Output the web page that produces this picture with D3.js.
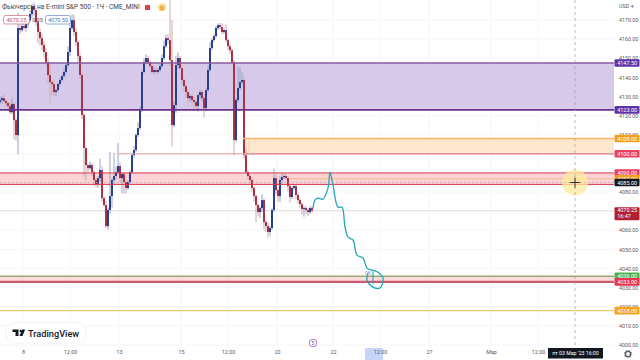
<!DOCTYPE html>
<html>
<head>
<meta charset="utf-8">
<script src="https://cdn.jsdelivr.net/npm/d3@7"></script>
<style>
html, body { margin: 0; padding: 0; background: #fff; overflow: hidden; }
text { font-family: Roboto, "Open Sans", sans-serif; }
</style>
</head>
<body>
<script>
var width = 640
var height = 360

// hourly closes, one per bar
var closes = [
  4128.1,4129.1,4127.6,4126.5,4125.0,4121.8,4126.0,4117.6,4109.8,4165.8,
  4164.7,4166.8,4165.8,4167.8,4169.9,4173.1,4177.3,4175.2,4168.9,4163.7,
  4160.5,4156.9,4153.2,4148.0,4141.2,4137.5,4136.5,4132.3,4133.3,4136.5,
  4138.6,4140.7,4142.8,4146.4,4153.2,4165.8,4169.9,4163.7,4158.4,4151.1,
  4141.2,4120.3,4103.0,4094.1,4092.5,4094.1,4090.4,4086.3,4084.2,4087.3,
  4091.5,4076.8,4073.2,4062.2,4070.6,4077.9,4086.3,4088.4,4090.4,4093.6,
  4087.3,4089.4,4085.2,4082.1,4085.2,4090.4,4099.3,4102.0,4109.8,4113.5,
  4122.9,4142.8,4148.0,4150.1,4148.0,4145.9,4142.8,4143.8,4142.8,4143.8,
  4145.9,4150.1,4156.3,4160.5,4159.5,4149.0,4115.0,4125.5,4146.4,4150.1,
  4144.8,4138.6,4135.4,4132.3,4129.1,4130.2,4128.1,4127.1,4125.0,4130.7,
  4132.3,4129.1,4123.9,4133.3,4143.8,4155.3,4159.5,4161.6,4165.8,4167.3,
  4166.3,4163.7,4164.7,4159.5,4156.3,4154.2,4148.0,4107.2,4128.1,4134.4,
  4137.5,4138.6,4099.3,4090.4,4088.4,4086.3,4082.1,4077.9,4073.2,4069.5,
  4071.6,4075.8,4064.3,4062.2,4059.1,4061.2,4070.6,4087.3,4081.0,4077.9,
  4086.3,4087.8,4088.4,4087.3,4083.1,4077.4,4082.1,4083.1,4078.4,4075.8,
  4073.7,4071.1,4071.6,4070.6,4069.5,4071.6,4070.25
]
var firstOpen = 4127

// wick length above / below the body, in points
var upperWick = [
  2,1,2,1,1,2,3,1,1,8,
  2,1,1,1,1,2,1,2,1,2,
  2,2,2,2,2,6,1,2,1,1,
  1,1,2,1,3,4,3,3,2,1,
  2,1,1,1,1,2,1,1,1,1,
  6,2,1,2,1,23,1,12,3,12,
  2,1,1,1,1,1,1,2,1,3,
  2,1,2,2,1,1,2,2,1,1,
  1,2,3,2,2,21,21,2,5,3,
  1,1,1,1,1,1,1,2,1,1,
  1,1,1,1,2,3,1,1,1,1,
  1,2,1,3,1,1,1,1,1,11,
  8,4,2,4,1,1,1,1,1,1,
  1,3,1,1,2,1,1,5,2,1,
  2,2,1,1,1,1,1,1,1,1,
  1,1,1,1,1,1,1
]
var lowerWick = [
  1,2,1,2,2,1,1,10,3,10,
  2,1,1,2,2,1,2,3,2,6,
  4,3,3,2,4,11,6,2,2,1,
  1,1,1,1,1,2,1,2,2,3,
  2,2,15,8,2,1,2,3,2,2,
  2,2,1,1,2,2,6,2,2,1,
  2,8,6,3,1,1,1,1,1,1,
  1,1,1,1,1,1,1,1,1,1,
  1,1,1,1,2,3,11,1,4,2,
  1,2,3,3,4,2,3,3,2,3,
  2,2,5,1,1,1,1,1,1,1,
  1,1,1,1,2,2,1,8,1,1,
  1,1,2,1,2,2,2,3,9,2,
  3,2,4,3,3,2,1,1,2,3,
  3,2,1,1,3,3,1,1,2,2,
  2,3,4,2,2,1,1
]

// hand drawn forecast line
var forecastBars = [156.5,157.5,159,161.5,164,165,166.5,169,171,172.5,174,176.5,178.5,181.5,183.5,186,189,191.5,190,186.5,183.5,184]
var forecastPrices = [4071.6,4075.8,4076.8,4076.3,4082.1,4090.4,4083.6,4072.1,4072.1,4061.7,4056.4,4054.9,4047.0,4045.5,4040.2,4039.2,4038.1,4035.0,4029.8,4030.3,4034.0,4037.6]

var priceTicks = [4000,4010,4020,4030,4040,4050,4060,4070,4080,4090,4100,4110,4120,4130,4140,4150,4160,4170]
var timeTickBars = [11.5,35,59.5,90.5,114,138.5,166.5,190,214.5,245.5,269]
var timeTickLabels = ['8','12:00','13','15','12:00','20','22','12:00','27','Мар','12:00']

var tagPrices = [4147.5,4123,4108,4100,4090,4087,4085,4036,4033,4018]
var tagLabels = ['4147.50','4123.00','4108.00','4100.00','4090.00','4087.00','4085.00','4036.00','4033.00','4018.00']
var tagColors = ['#5e35a8','#5e35a8','#f0a020','#e8415e','#e8415e','#f0a020','#131722','#4caf50','#e8344e','#f5a31e']

var crossBar = 287.5
var crossPrice = 4085
var lastPrice = 4070.25

var x = d3.scaleLinear().domain([0, 320]).range([0, 640])
var y = d3.scaleLinear().domain([4000, 4170]).range([345, 20])
var plotRight = 614

var svg = d3.select('body').append('svg')
  .attr('width', width)
  .attr('height', height)
  .style('display', 'block')

// grid
svg.append('g').selectAll('line').data(priceTicks).enter().append('line')
  .attr('x1', 0).attr('x2', plotRight)
  .attr('y1', d => y(d)).attr('y2', d => y(d))
  .attr('stroke', '#f6f6f8')
svg.append('g').selectAll('line').data(timeTickBars).enter().append('line')
  .attr('x1', d => x(d)).attr('x2', d => x(d))
  .attr('y1', 0).attr('y2', 347)
  .attr('stroke', '#f6f6f8')

// zones
function zone(bar0, top, bottom, fill) {
  svg.append('rect')
    .attr('x', x(bar0))
    .attr('y', y(top))
    .attr('width', plotRight - x(bar0))
    .attr('height', y(bottom) - y(top))
    .attr('fill', fill)
}
function level(bar0, price, color, w) {
  svg.append('line')
    .attr('x1', x(bar0)).attr('x2', plotRight)
    .attr('y1', y(price)).attr('y2', y(price))
    .attr('stroke', color)
    .attr('stroke-width', w)
}

zone(0, 4147.5, 4123, '#d6c9ea')
zone(121.5, 4108, 4100, '#fde7cf')
zone(0, 4090, 4084, '#fbd3d6')
zone(0, 4036, 4033, '#fbdcdc')

level(0, lastPrice, '#e2e2e4', 1)

// candles
var candles = closes.map((c, i) => {
  var o = i == 0 ? firstOpen : closes[i - 1]
  return {
    i: i,
    open: o,
    close: c,
    high: Math.max(o, c) + upperWick[i],
    low: Math.min(o, c) - lowerWick[i]
  }
})

var candleLayer = svg.append('g')
candleLayer.selectAll('line').data(candles).enter().append('line')
  .attr('x1', d => x(d.i)).attr('x2', d => x(d.i))
  .attr('y1', d => y(d.high)).attr('y2', d => y(d.low))
  .attr('stroke', d => d.close >= d.open ? '#98a4c4' : '#cfa9ae')
  .attr('stroke-width', 1)
candleLayer.selectAll('rect').data(candles).enter().append('rect')
  .attr('x', d => x(d.i) - 1)
  .attr('width', 2)
  .attr('y', d => y(Math.max(d.open, d.close)))
  .attr('height', d => Math.max(1, Math.abs(y(d.open) - y(d.close))))
  .attr('fill', d => d.close >= d.open ? '#263f8e' : '#a83348')

// level lines over the candles
level(0, 4147.5, '#8b5a9e', 1.4)
level(0, 4123, '#6f2f8c', 1.6)
level(121.5, 4108, '#f9b560', 1.5)
level(121.5, 4100, '#cf8f86', 1.5)
level(59, 4100, '#e79aa0', 1)
level(0, 4090, '#d8394c', 1)
level(145, 4087, '#f2bd8a', 1)
level(0, 4084, '#d8394c', 1)
level(0, 4036, '#9aa86e', 1.4)
level(0, 4033, '#cb5a6c', 2.2)
level(0, 4018, '#e4cd6e', 1.4)

svg.append('line')
  .attr('x1', x(124.5)).attr('x2', x(124.5))
  .attr('y1', y(4108)).attr('y2', y(4100))
  .attr('stroke', '#f8cf9a')

// forecast
var forecast = forecastBars.map((b, i) => [x(b), y(forecastPrices[i])])
svg.append('path')
  .attr('d', d3.line().curve(d3.curveCatmullRom)(forecast))
  .attr('fill', 'none')
  .attr('stroke', '#22a9b8')
  .attr('stroke-width', 1.3)
svg.append('line')
  .attr('x1', x(186.5)).attr('x2', x(186.5))
  .attr('y1', y(4038.5)).attr('y2', y(4032))
  .attr('stroke', '#22a9b8')
  .attr('stroke-width', 1.1)
svg.append('text')
  .attr('x', x(184)).attr('y', y(4036.5))
  .attr('text-anchor', 'middle')
  .attr('font-size', 5)
  .attr('fill', '#6f9fd8')
  .text('ОК')

// crosshair
svg.append('circle')
  .attr('cx', x(crossBar)).attr('cy', y(crossPrice))
  .attr('r', 13)
  .attr('fill', '#fdeb9c')
  .attr('fill-opacity', 0.75)
svg.append('line')
  .attr('x1', x(crossBar)).attr('x2', x(crossBar))
  .attr('y1', 0).attr('y2', 347)
  .attr('stroke', '#9a9ea8')
  .attr('stroke-width', 0.7)
  .attr('stroke-dasharray', '3 3')
svg.append('line')
  .attr('x1', 0).attr('x2', plotRight)
  .attr('y1', y(crossPrice)).attr('y2', y(crossPrice))
  .attr('stroke', '#b8a0a6')
  .attr('stroke-width', 0.6)
  .attr('stroke-dasharray', '2 2')
svg.append('path')
  .attr('d', `M${x(crossBar) - 5},${y(crossPrice)}h10M${x(crossBar)},${y(crossPrice) - 5}v10`)
  .attr('stroke', '#333')
  .attr('stroke-width', 1)

// axes
var yAxis = svg.append('g')
  .attr('transform', `translate(${plotRight},0)`)
  .call(d3.axisRight(y).tickValues(priceTicks).tickFormat(d3.format('.2f')).tickSize(0).tickPadding(5))
yAxis.select('.domain').remove()
yAxis.selectAll('text').attr('font-size', 5.3).attr('fill', '#555a64').style('font-family', 'Roboto, sans-serif')

svg.append('rect')
  .attr('x', x(182.5)).attr('y', 348)
  .attr('width', 18).attr('height', 12)
  .attr('fill', '#c6d5f8')

var xAxis = svg.append('g')
  .attr('transform', 'translate(0,347)')
  .call(d3.axisBottom(x).tickValues(timeTickBars).tickFormat((d, i) => timeTickLabels[i]).tickSize(0).tickPadding(3))
xAxis.select('.domain').remove()
xAxis.selectAll('text').attr('font-size', 5.4).attr('fill', '#555a64').style('font-family', 'Roboto, sans-serif')

// price tags
var tagH = 7.6
var tags = svg.append('g').selectAll('g').data(tagPrices).enter().append('g')
  .attr('transform', d => `translate(${plotRight},${y(d)})`)
tags.append('rect')
  .attr('x', 0.5).attr('y', -tagH / 2)
  .attr('width', 25).attr('height', tagH)
  .attr('rx', 1)
  .attr('fill', (d, i) => tagColors[i])
tags.append('text')
  .attr('x', 3.2).attr('y', 2)
  .attr('font-size', 5.5)
  .attr('fill', '#fff')
  .text((d, i) => tagLabels[i])

// countdown tag
svg.append('rect')
  .attr('x', plotRight + 0.5).attr('y', y(lastPrice) - 3.5)
  .attr('width', 25).attr('height', 13)
  .attr('rx', 1)
  .attr('fill', '#b02232')
svg.append('text')
  .attr('x', plotRight + 3.2).attr('y', y(lastPrice) + 1.7)
  .attr('font-size', 5.5).attr('fill', '#fff')
  .text('4070.25')
svg.append('text')
  .attr('x', plotRight + 3.2).attr('y', y(lastPrice) + 7.7)
  .attr('font-size', 5.5).attr('fill', '#fff')
  .text('16:47')

svg.append('text')
  .attr('x', 619).attr('y', 7.5)
  .attr('font-size', 5.4)
  .attr('fill', '#555a64')
  .text('USD ▾')

// crosshair date
svg.append('rect')
  .attr('x', 548).attr('y', 348)
  .attr('width', 55).attr('height', 10.5)
  .attr('fill', '#131722')
svg.append('text')
  .attr('x', 575.5).attr('y', 355.2)
  .attr('text-anchor', 'middle')
  .attr('font-size', 5.2)
  .attr('fill', '#fff')
  .text("пт 03 Мар '23  16:00")

// settings icon
svg.append('circle')
  .attr('cx', 628).attr('cy', 354)
  .attr('r', 2.6)
  .attr('fill', 'none')
  .attr('stroke', '#555a64')
  .attr('stroke-width', 1.4)
svg.append('circle')
  .attr('cx', 628).attr('cy', 354)
  .attr('r', 3.8)
  .attr('fill', 'none')
  .attr('stroke', '#555a64')
  .attr('stroke-width', 0.9)
  .attr('stroke-dasharray', '1.2 1.8')

// legend row
svg.append('text')
  .attr('x', 2).attr('y', 9)
  .attr('font-size', 6.6)
  .attr('fill', '#3d4048')
  .text('Фьючерсы на E-mini S&P 500 · 1Ч · CME_MINI')
svg.append('rect')
  .attr('x', 145).attr('y', 5)
  .attr('width', 5).attr('height', 5)
  .attr('fill', '#d8404c')
svg.append('circle')
  .attr('cx', 162).attr('cy', 7.5)
  .attr('r', 4)
  .attr('fill', '#fcd58a')
svg.append('text')
  .attr('x', 162).attr('y', 9.5)
  .attr('text-anchor', 'middle')
  .attr('font-size', 5)
  .attr('fill', '#a06a10')
  .text('D')

function priceBox(x0, w, label, color) {
  svg.append('rect')
    .attr('x', x0).attr('y', 15.5)
    .attr('width', w).attr('height', 8.5)
    .attr('rx', 2)
    .attr('fill', '#fff')
    .attr('stroke', color)
    .attr('stroke-width', 0.6)
  svg.append('text')
    .attr('x', x0 + w / 2).attr('y', 21.8)
    .attr('text-anchor', 'middle')
    .attr('font-size', 5.5)
    .attr('fill', color)
    .text(label)
}
priceBox(3.5, 26, '4070.25', '#c2505e')
svg.append('text')
  .attr('x', 37.5).attr('y', 21.8)
  .attr('text-anchor', 'middle')
  .attr('font-size', 5.5)
  .attr('fill', '#555a64')
  .text('0.25')
priceBox(45.5, 25, '4070.50', '#4a74b8')

// TradingView badge
svg.append('rect')
  .attr('x', 5.5).attr('y', 322.5)
  .attr('width', 81).attr('height', 20.5)
  .attr('rx', 10)
  .attr('fill', '#fff')
  .attr('stroke', '#f2f2f4')
svg.append('path')
  .attr('d', 'M12.5,329.5h6v6.5h-3v-4h-3zM19.5,336l2.6,-6.5h3l-2.6,6.5z')
  .attr('fill', '#131722')
svg.append('circle')
  .attr('cx', 20.7).attr('cy', 331)
  .attr('r', 1.2)
  .attr('fill', '#131722')
svg.append('text')
  .attr('x', 28).attr('y', 336.5)
  .attr('font-size', 9.2)
  .attr('font-weight', 500)
  .attr('fill', '#131722')
  .text('TradingView')

// event marker
svg.append('circle')
  .attr('cx', 313).attr('cy', 343)
  .attr('r', 3.8)
  .attr('fill', '#fff')
  .attr('stroke', '#a56bbd')
  .attr('stroke-width', 0.9)
svg.append('text')
  .attr('x', 313).attr('y', 345)
  .attr('text-anchor', 'middle')
  .attr('font-size', 5)
  .attr('fill', '#7b4a96')
  .text('5')
</script>
</body>
</html>
